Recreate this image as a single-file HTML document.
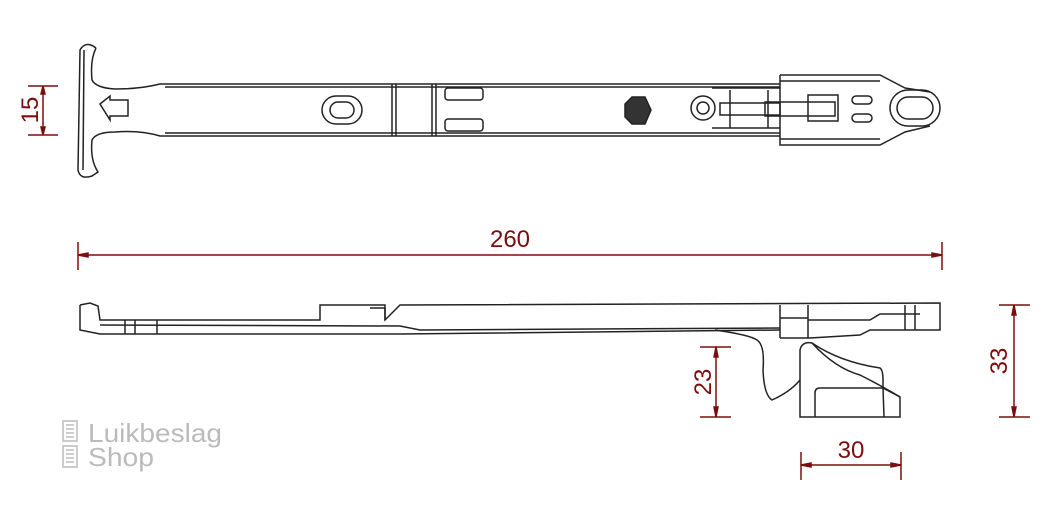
<!DOCTYPE html>
<html><head><style>body{margin:0;background:#fff}svg{display:block}</style></head><body>
<svg width="1061" height="511" viewBox="0 0 1061 511" xmlns="http://www.w3.org/2000/svg" font-family="Liberation Sans, sans-serif">
<g fill="none" stroke="#222" stroke-width="1.5">
<!-- top view handle -->
<path d="M96 48 Q86 40 80 50 L78 170 Q80 180 92 176 L98 172 Q90 160 92 140 Q96 132 115 132 Q140 130 160 136 L165 136"/>
<path d="M96 48 Q90 60 92 80 Q96 88 115 89 Q140 89 160 84 L165 84"/>
<path d="M84 50 L83 170"/>
<path d="M100 104 L110 96 L110 100 L128 100 L128 116 L110 116 L110 120 Z"/>
<path d="M165 84 L780 84 M165 136 L780 136 M165 87 L780 87 M165 133 L780 133"/>
<line x1="392" y1="84" x2="392" y2="136"/><line x1="396" y1="84" x2="396" y2="136"/>
<line x1="432" y1="84" x2="432" y2="136"/><line x1="436" y1="84" x2="436" y2="136"/>
<rect x="322" y="96" width="40" height="28" rx="14"/><rect x="330" y="102" width="24" height="16" rx="8"/>
<rect x="445" y="88" width="38" height="12" rx="3"/><rect x="445" y="119" width="38" height="12" rx="3"/>
<path d="M625 104 L632 97 L645 97 L651 110 L645 124 L632 124 L625 117 Z" fill="#333"/>
<circle cx="703" cy="108" r="12"/><circle cx="703" cy="108" r="6"/>
<path d="M712 88 L780 88 M712 128 L780 128 M730 90 L730 128 M768 90 L768 128"/>
<rect x="720" y="103" width="60" height="12"/><rect x="765" y="102" width="70" height="14"/>
<rect x="808" y="95" width="30" height="26"/>
<path d="M780 75 L880 75 L905 88 L930 92 M780 75 L780 145 L880 145 L905 132 L930 126 M780 81 L880 81 M780 139 L880 139"/>
<rect x="852" y="96" width="20" height="8" rx="4"/><rect x="852" y="114" width="20" height="8" rx="4"/>
<rect x="890" y="90" width="50" height="36" rx="18"/><rect x="897" y="97" width="36" height="22" rx="11"/>
<!-- side view -->
<path d="M80 305 L80 330 L100 334 L400 334 L780 330"/>
<path d="M80 305 L90 303 L98 306 L100 320 L320 320 L320 305 L385 305 L385 320 L400 305 L940 303 L940 330 L870 330 L860 335 L810 338 L780 338"/>
<path d="M100 325 L400 326 L420 330 L780 328"/>
<line x1="125" y1="320" x2="125" y2="334"/><line x1="135" y1="320" x2="135" y2="334"/><line x1="157" y1="320" x2="157" y2="334"/>
<path d="M370 308 L385 308 L385 320"/>
<path d="M780 305 L780 338 M808 305 L808 338 M808 320 L870 320 L880 314 L920 314 M780 318 L808 318 M905 305 L905 330 M915 305 L915 330"/>
<path d="M715 330 Q750 335 757 340 Q765 345 763 370 Q764 395 772 400 Q790 392 800 380"/>
<path d="M800 417 L800 350 Q802 341 812 343 Q840 362 880 368 Q883 370 883 380 L883 388 L900 397 L900 417 Z"/>
<path d="M815 417 L815 393 Q815 388 820 388 L883 388 M883 388 L884 417 M812 343 Q835 368 860 375 Q880 385 900 397"/>
</g>
<g stroke="#7a0e0e" stroke-width="1.5" fill="#7a0e0e">
<line x1="28" y1="86" x2="58" y2="86" /><line x1="28" y1="135" x2="58" y2="135"/><line x1="43" y1="86" x2="43" y2="135"/>
<path d="M43 86 l-2 8 h4z M43 135 l-2 -8 h4z"/>
<line x1="78" y1="242" x2="78" y2="270"/><line x1="942" y1="242" x2="942" y2="270"/><line x1="78" y1="255" x2="942" y2="255"/>
<path d="M78 255 l10 -2 v4z M942 255 l-10 -2 v4z"/>
<line x1="700" y1="347" x2="731" y2="347"/><line x1="700" y1="417" x2="731" y2="417"/><line x1="716" y1="347" x2="716" y2="417"/>
<path d="M716 347 l-2 10 h4z M716 417 l-2 -10 h4z"/>
<line x1="999" y1="305" x2="1030" y2="305"/><line x1="999" y1="417" x2="1030" y2="417"/><line x1="1014" y1="305" x2="1014" y2="417"/>
<path d="M1014 305 l-2 10 h4z M1014 417 l-2 -10 h4z"/>
<line x1="801" y1="452" x2="801" y2="480"/><line x1="901" y1="452" x2="901" y2="480"/><line x1="801" y1="465" x2="901" y2="465"/>
<path d="M801 465 l10 -2 v4z M901 465 l-10 -2 v4z"/>
</g>
<g fill="#7a0e0e" font-size="24" text-anchor="middle" stroke="none">
<text x="510" y="247">260</text>
<text x="851" y="458">30</text>
<text transform="translate(38 110) rotate(-90)">15</text>
<text transform="translate(711 382) rotate(-90)">23</text>
<text transform="translate(1007 361) rotate(-90)">33</text>
</g>
<g fill="none" stroke="#bbb" stroke-width="1.5">
<rect x="63" y="421" width="14" height="20"/><rect x="63" y="446" width="14" height="21"/>
<path d="M66 425h8M66 429h8M66 433h8M66 437h8M66 450h8M66 454h8M66 458h8M66 462h8"/>
</g>
<g fill="#bbb" font-size="26"><text x="88" y="442" textLength="134" lengthAdjust="spacingAndGlyphs">Luikbeslag</text><text x="88" y="466" textLength="66" lengthAdjust="spacingAndGlyphs">Shop</text></g>
</svg>
</body></html>
